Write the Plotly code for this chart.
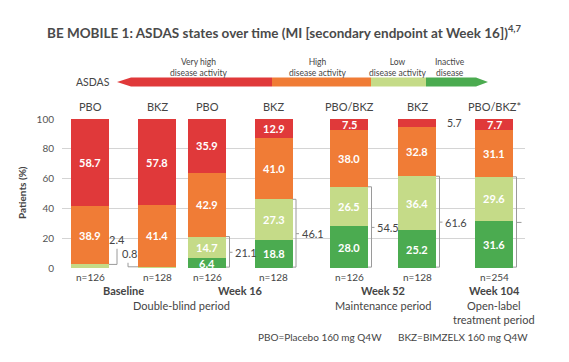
import plotly.graph_objects as go

# ---------------- data ----------------
columns = ["PBO", "BKZ", "PBO", "BKZ", "PBO/BKZ", "BKZ", "PBO/BKZ*"]
n_labels = ["n=126", "n=128", "n=126", "n=128", "n=126", "n=128", "n=254"]
inactive = [0.0, 0.0, 6.4, 18.8, 28.0, 25.2, 31.6]
low = [2.4, 0.8, 14.7, 27.3, 26.5, 36.4, 29.6]
high = [38.9, 41.4, 42.9, 41.0, 38.0, 32.8, 31.1]
very_high = [58.7, 57.8, 35.9, 12.9, 7.5, 5.7, 7.7]
combined = [2.4, 0.8, 21.1, 46.1, 54.5, 61.6, 61.2]
y_ticks = [0, 20, 40, 60, 80, 100]
timepoints = ["Baseline", "Week 16", "Week 52", "Week 104"]
periods = ["Double-blind period", "Maintenance period", "Open-label<br>treatment period"]
states = ["Very high<br>disease activity", "High<br>disease activity",
          "Low<br>disease activity", "Inactive<br>disease"]

# ---------------- layout constants ----------------
W, H = 569, 362
L, R, T, B = 62, 525, 119, 268          # plot area in pixels
X_POS = [90, 157, 207, 273.5, 349, 417, 494]   # column centres (x axis in px units)
BAR_W = 38
C_RED, C_ORG, C_LGR, C_GRN = "#E0393A", "#F07C36", "#C5DB88", "#4BAB50"
C_TEAL = "#14ADBF"
TXT = "#454545"
FONT = "Lato"


def px(x):
    return (x - L) / (R - L)


def py(y):
    return (B - y) / (B - T)


def note(x, y, text, size, color=TXT, xanchor="center", yanchor="middle", **kw):
    return dict(x=px(x), y=py(y), xref="paper", yref="paper", text=text, showarrow=False,
                xanchor=xanchor, yanchor=yanchor,
                font=dict(family=FONT, size=size, color=color), **kw)


fig = go.Figure()
for name, vals, col in [("Inactive", inactive, C_GRN), ("Low", low, C_LGR),
                        ("High", high, C_ORG), ("Very high", very_high, C_RED)]:
    fig.add_trace(go.Bar(x=X_POS, y=vals, width=BAR_W, name=name,
                         marker=dict(color=col, line=dict(width=0)),
                         hoverinfo="skip"))

ann = []
shapes = []

# segment labels
for i in range(len(columns)):
    base = 0.0
    for vals in (inactive, low, high, very_high):
        v = vals[i]
        if v >= 6:
            ann.append(dict(x=X_POS[i], y=base + v / 2, xref="x", yref="y",
                            text="<b>%.1f</b>" % v, showarrow=False,
                            xanchor="center", yanchor="middle",
                            font=dict(family=FONT, size=11, color="white")))
        base += v

# 5.7 outside label
i = 5
ann.append(dict(x=X_POS[i] + BAR_W / 2 + 9, y=100 - very_high[i] / 2, xref="x", yref="y",
                text="%.1f" % very_high[i], showarrow=False, xanchor="left", yanchor="middle",
                font=dict(family=FONT, size=10.5, color=TXT)))

line_style = dict(color="#9a9a9a", width=1)

# baseline leaders
r0 = X_POS[0] + BAR_W / 2
lx = r0 + 8
shapes.append(dict(type="path", xref="x", yref="y", line=line_style,
                   path=f"M {r0},{combined[0]} L {lx},{combined[0]} L {lx},{combined[0] + 10.5}"))
ann.append(dict(x=lx, y=combined[0] + 11, xref="x", yref="y", text="%.1f" % combined[0],
                showarrow=False, xanchor="center", yanchor="bottom",
                font=dict(family=FONT, size=11, color=TXT)))
l1 = X_POS[1] - BAR_W / 2
lx1 = l1 - 10
shapes.append(dict(type="path", xref="x", yref="y", line=line_style,
                   path=f"M {l1},{combined[1]} L {lx1},{combined[1]} L {lx1},{combined[1] + 2.7}"))
ann.append(dict(x=lx1 + 1.5, y=combined[1] + 3, xref="x", yref="y", text="%.1f" % combined[1],
                showarrow=False, xanchor="center", yanchor="bottom",
                font=dict(family=FONT, size=11, color=TXT)))

# brackets
for i in range(2, 7):
    r = X_POS[i] + BAR_W / 2
    bx = r + 3.5
    c = combined[i]
    tick_end = bx + 3 if i < 6 else bx + 5
    shapes.append(dict(type="path", xref="x", yref="y", line=line_style,
                       path=f"M {r},0.6 L {bx},0.6 L {bx},{c} L {r},{c} M {bx},{c / 2} L {tick_end},{c / 2}"))
    if i < 6:
        ann.append(dict(x=bx + 3.5, y=c / 2, xref="x", yref="y", text="%.1f" % c,
                        showarrow=False, xanchor="left", yanchor="middle",
                        font=dict(family=FONT, size=11, color=TXT)))
    else:
        fig.add_trace(go.Scatter(x=[bx + 15], y=[c / 2], mode="markers+text",
                                 marker=dict(size=22, color=C_TEAL, line=dict(width=0)),
                                 text=["%.1f" % c], textposition="middle center",
                                 textfont=dict(family=FONT, size=11, color="white"),
                                 cliponaxis=False, hoverinfo="skip"))

# column headers and n labels
for i, c in enumerate(columns):
    ann.append(note(X_POS[i], 107, c, 11))
    ann.append(note(X_POS[i], 277, n_labels[i], 10))

# timepoint labels
tp_x = [(X_POS[0] + X_POS[1]) / 2, (X_POS[2] + X_POS[3]) / 2,
        (X_POS[4] + X_POS[5]) / 2, X_POS[6]]
for t, x in zip(timepoints, tp_x):
    ann.append(note(x, 290, "<b>%s</b>" % t, 11))
per_x = [181, (X_POS[4] + X_POS[5]) / 2, X_POS[6]]
for p, x in zip(periods, per_x):
    ann.append(note(x, 297, p, 11, yanchor="top"))

# footnote
ann.append(note(256, 337, "PBO=Placebo 160 mg Q4W", 10, xanchor="left"))
ann.append(note(396, 337, "BKZ=BIMZELX 160 mg Q4W", 10, xanchor="left"))

# y axis title
ann.append(note(22, 193, "<b>Patients (%)</b>", 10, textangle=-90))

# title
ann.append(note(284.5, 32.5,
                "<b>BE MOBILE 1: ASDAS states over time (MI [secondary endpoint at Week 16])<sup>4,7</sup></b>",
                13.5, color="#4a4a4a"))

# ASDAS arrow
a_top, a_bot, a_mid = py(77.5), py(86.5), py(82)
shapes.append(dict(type="path", xref="paper", yref="paper", fillcolor=C_RED, line=dict(width=0),
                   path=f"M {px(117)},{a_mid} L {px(131)},{a_top} L {px(272)},{a_top} L {px(272)},{a_bot} L {px(131)},{a_bot} Z"))
shapes.append(dict(type="rect", xref="paper", yref="paper", fillcolor=C_ORG, line=dict(width=0),
                   x0=px(272), x1=px(371), y0=a_bot, y1=a_top))
shapes.append(dict(type="rect", xref="paper", yref="paper", fillcolor=C_LGR, line=dict(width=0),
                   x0=px(371), x1=px(426), y0=a_bot, y1=a_top))
shapes.append(dict(type="path", xref="paper", yref="paper", fillcolor=C_GRN, line=dict(width=0),
                   path=f"M {px(426)},{a_top} L {px(476)},{a_top} L {px(488)},{a_mid} L {px(476)},{a_bot} L {px(426)},{a_bot} Z"))
ann.append(note(112, 82, "ASDAS", 10.5, xanchor="right"))
for s, x in zip(states, [199, 318, 398, 450]):
    ann.append(note(x, 67, s, 8.5))

fig.update_layout(
    width=W, height=H, barmode="stack", showlegend=False,
    margin=dict(l=L, r=W - R, t=T, b=H - B, pad=0),
    paper_bgcolor="white", plot_bgcolor="white",
    xaxis=dict(range=[L, R], visible=False, fixedrange=True, automargin=False),
    yaxis=dict(range=[0, 100], tickvals=y_ticks, showgrid=True, gridcolor="#d4d4d4",
               gridwidth=1, zeroline=False, showline=False, ticks="",
               ticklabelstandoff=7, automargin=False,
               tickfont=dict(family=FONT, size=10, color="#555555"), fixedrange=True),
    annotations=ann, shapes=shapes,
)

fig.write_html("out.html", config={"displayModeBar": False},
               post_script="document.body.style.margin='0';")
